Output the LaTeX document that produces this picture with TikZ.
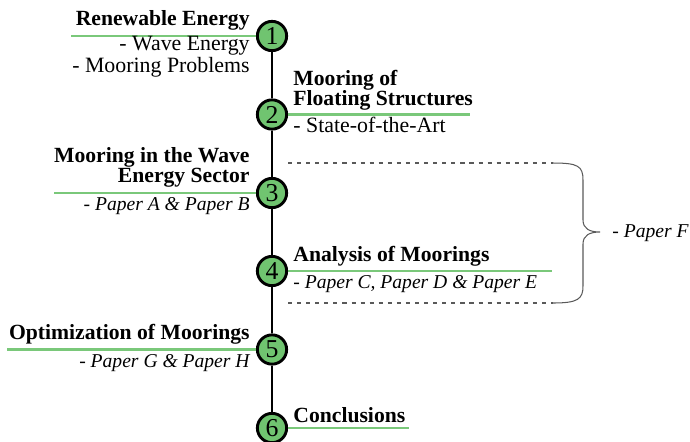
\documentclass[tikz,border=0pt]{standalone}
\usepackage{fontspec}
\setmainfont{Liberation Serif}
\usetikzlibrary{positioning}

\definecolor{stepgreen}{RGB}{112,196,112}
\definecolor{rulegreen}{RGB}{122,200,122}

\tikzset{
  chap/.style={circle, draw=black, line width=1.4pt, fill=stepgreen,
    inner sep=0pt, minimum size=14.2pt, font=\fontsize{12.5}{12.5}\selectfont},
  rule/.style={rulegreen, line width=1.2pt},
  title/.style={font=\fontsize{10.5}{9.7}\selectfont\bfseries, inner sep=0pt, text depth=0pt},
  sub/.style={font=\fontsize{10.6}{9.4}\selectfont, inner sep=0pt},
  paper/.style={font=\fontsize{9.5}{9.5}\selectfont\itshape, inner sep=0pt},
  bound/.style={gray!70!black, line width=0.5pt, dash pattern=on 2pt off 2.4pt}
}

\begin{document}
\begin{tikzpicture}[x=0.485pt, y=-0.485pt]
\useasboundingbox (0,0) rectangle (690,441);

% chapters
\node[chap] (c1) at (272, 36) {1};
\node[chap] (c2) at (272,114.5) {2};
\node[chap] (c3) at (272,193) {3};
\node[chap] (c4) at (272,271) {4};
\node[chap] (c5) at (272,349.5) {5};
\node[chap] (c6) at (272,428) {6};

\draw[line width=1.2pt] (c1) -- (c2) -- (c3) -- (c4) -- (c5) -- (c6);

% green rules
\coordinate (r1) at (71,36);
\coordinate (r2) at (470,114.5);
\coordinate (r3) at (54,193);
\coordinate (r4) at (552,271);
\coordinate (r5) at (7,349.5);
\coordinate (r6) at (409,428);
\foreach \i in {1,...,6}
    \draw[rule] (c\i) -- (r\i);

% left side
\node[title, anchor=south east] (t1) at (250,26) {Renewable Energy};
\node[sub, anchor=base east, align=right] (s1) at (250,72) {- Wave Energy\\- Mooring Problems};

\node[title, anchor=south east, align=right] (t3) at (250,183) {Mooring in the Wave\\Energy Sector};
\node[paper, anchor=base east] (s3) at (250,210) {- Paper A \& Paper B};

\node[title, anchor=south east] (t5) at (250,340) {Optimization of Moorings};
\node[paper, anchor=base east] (s5) at (250,367) {- Paper G \& Paper H};

% right side
\node[title, anchor=south west, align=left] (t2) at (293,106) {Mooring of\\Floating Structures};
\node[sub, anchor=base west] (s2) at (293,132) {- State-of-the-Art};

\node[title, anchor=south west] (t4) at (293,262) {Analysis of Moorings};
\node[paper, anchor=base west] (s4) at (293,288) {- Paper C, Paper D \& Paper E};

\node[title, anchor=south west] (t6) at (293,423) {Conclusions};

% papers spanning chapters 3 and 4
\draw[bound] (288,163) -- (553,163);
\draw[bound] (288,303) -- (553,303);
\coordinate (tip) at (600,232);
\draw[gray!70!black, line width=0.5pt] (553,163) .. controls (578,163) and (583,166) .. (583,180)
    -- (583,220) .. controls (583,229) and (590,232) .. (tip)
    .. controls (590,232) and (583,235) .. (583,244)
    -- (583,286) .. controls (583,299) and (578,303) .. (553,303);
\node[paper, anchor=base west] (pf) at (612,237) {- Paper F};

\end{tikzpicture}
\end{document}
